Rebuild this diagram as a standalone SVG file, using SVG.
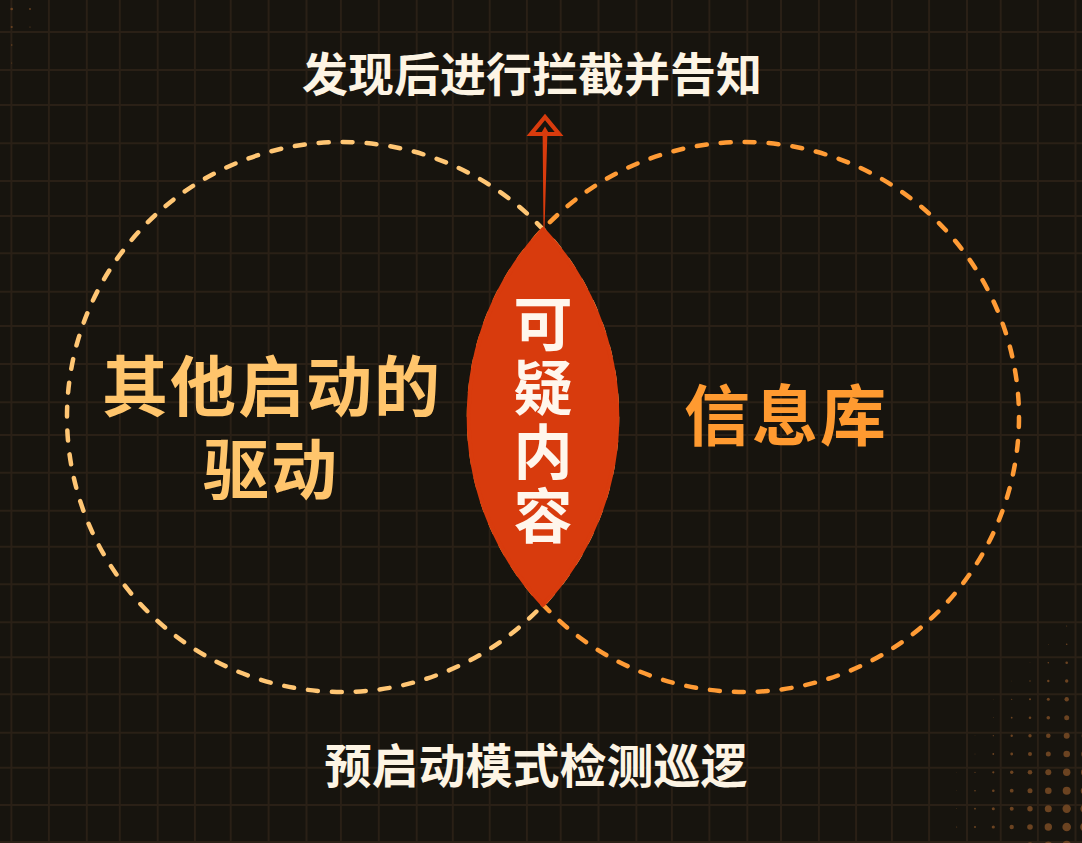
<svg xmlns="http://www.w3.org/2000/svg" width="1082" height="843" viewBox="0 0 1082 843">
<style>
.t{font-family:"Noto Sans CJK SC","Noto Sans",sans-serif;font-weight:700;text-anchor:middle}
.grid{stroke:#2a2016;stroke-width:2;fill:none}
.dot{fill:#6b4321}
.ring{fill:none;stroke-width:4.5;stroke-linecap:round;stroke-dasharray:10 14}
</style>
<rect width="1082" height="843" fill="#17140e"/>
<path class="grid" d="M11.4 0V843M48.9 0V843M86.8 0V843M119.8 0V843M157.7 0V843M194.9 0V843M230.7 0V843M268.6 0V843M306.5 0V843M340.9 0V843M378.8 0V843M416.7 0V843M452.8 0V843M489.7 0V843M526.9 0V843M560.7 0V843M598.5 0V843M636.4 0V843M671.9 0V843M709.4 0V843M747.3 0V843M781 0V843M818.9 0V843M856.1 0V843M891.9 0V843M929.1 0V843M967 0V843M1000.7 0V843M1037.9 0V843M1075.5 0V843
M0 32H1082M0 70H1082M0 105H1082M0 143.3H1082M0 181H1082M0 216H1082M0 253.3H1082M0 291.7H1082M0 326H1082M0 364H1082M0 402.3H1082M0 435H1082M0 472.7H1082M0 510.7H1082M0 546.7H1082M0 584.3H1082M0 622.3H1082M0 657.3H1082M0 694.3H1082M0 732.7H1082M0 767.7H1082M0 805H1082M0 842H1082"/>
<g id="halftone">
<circle class="dot" cx="11.7" cy="9" r="1.3"/><circle class="dot" cx="30" cy="9" r="0.9"/><circle class="dot" cx="11.7" cy="27" r="1.1"/><circle class="dot" cx="30" cy="27" r="0.6"/><circle class="dot" cx="11.7" cy="45" r="0.8"/><circle class="dot" cx="11.7" cy="63" r="0.5"/>
<circle class="dot" cx="1066.7" cy="626" r="0.5"/><circle class="dot" cx="1066.7" cy="644.3" r="0.8"/><circle class="dot" cx="1066.7" cy="662.7" r="1.3"/><circle class="dot" cx="1066.7" cy="681" r="1.7"/><circle class="dot" cx="1066.7" cy="699.3" r="2.2"/><circle class="dot" cx="1066.7" cy="717.7" r="2.5"/><circle class="dot" cx="1066.7" cy="735.7" r="3"/><circle class="dot" cx="1066.7" cy="754" r="3.3"/><circle class="dot" cx="1066.7" cy="772.3" r="3.7"/><circle class="dot" cx="1066.7" cy="790.7" r="4"/><circle class="dot" cx="1066.7" cy="808.7" r="4.2"/><circle class="dot" cx="1066.7" cy="827" r="4.3"/><circle class="dot" cx="1066.7" cy="845.3" r="4.5"/>
<circle class="dot" cx="1048.3" cy="644.3" r="0.4"/><circle class="dot" cx="1048.3" cy="662.7" r="0.8"/><circle class="dot" cx="1048.3" cy="681" r="1.2"/><circle class="dot" cx="1048.3" cy="699.3" r="1.5"/><circle class="dot" cx="1048.3" cy="717.7" r="1.8"/><circle class="dot" cx="1048.3" cy="735.7" r="2.3"/><circle class="dot" cx="1048.3" cy="754" r="2.5"/><circle class="dot" cx="1048.3" cy="772.3" r="3"/><circle class="dot" cx="1048.3" cy="790.7" r="3.3"/><circle class="dot" cx="1048.3" cy="808.7" r="3.5"/><circle class="dot" cx="1048.3" cy="827" r="3.7"/><circle class="dot" cx="1048.3" cy="845.3" r="3.9"/>
<circle class="dot" cx="1030" cy="662.7" r="0.3"/><circle class="dot" cx="1030" cy="681" r="0.7"/><circle class="dot" cx="1030" cy="699.3" r="1"/><circle class="dot" cx="1030" cy="717.7" r="1.3"/><circle class="dot" cx="1030" cy="735.7" r="1.7"/><circle class="dot" cx="1030" cy="754" r="2"/><circle class="dot" cx="1030" cy="772.3" r="2.3"/><circle class="dot" cx="1030" cy="790.7" r="2.5"/><circle class="dot" cx="1030" cy="808.7" r="2.7"/><circle class="dot" cx="1030" cy="827" r="2.8"/><circle class="dot" cx="1030" cy="845.3" r="3"/>
<circle class="dot" cx="1011.7" cy="681" r="0.3"/><circle class="dot" cx="1011.7" cy="699.3" r="0.6"/><circle class="dot" cx="1011.7" cy="717.7" r="0.9"/><circle class="dot" cx="1011.7" cy="735.7" r="1.2"/><circle class="dot" cx="1011.7" cy="754" r="1.4"/><circle class="dot" cx="1011.7" cy="772.3" r="1.7"/><circle class="dot" cx="1011.7" cy="790.7" r="1.9"/><circle class="dot" cx="1011.7" cy="808.7" r="2"/><circle class="dot" cx="1011.7" cy="827" r="2.2"/><circle class="dot" cx="1011.7" cy="845.3" r="2.3"/>
<circle class="dot" cx="993.3" cy="699.3" r="0.25"/><circle class="dot" cx="993.3" cy="717.7" r="0.4"/><circle class="dot" cx="993.3" cy="735.7" r="0.6"/><circle class="dot" cx="993.3" cy="754" r="0.9"/><circle class="dot" cx="993.3" cy="772.3" r="1.1"/><circle class="dot" cx="993.3" cy="790.7" r="1.3"/><circle class="dot" cx="993.3" cy="808.7" r="1.5"/><circle class="dot" cx="993.3" cy="827" r="1.6"/><circle class="dot" cx="993.3" cy="845.3" r="1.7"/>
<circle class="dot" cx="975" cy="735.7" r="0.25"/><circle class="dot" cx="975" cy="754" r="0.4"/><circle class="dot" cx="975" cy="772.3" r="0.6"/><circle class="dot" cx="975" cy="790.7" r="0.8"/><circle class="dot" cx="975" cy="808.7" r="0.9"/><circle class="dot" cx="975" cy="827" r="1"/><circle class="dot" cx="975" cy="845.3" r="1.1"/>
<circle class="dot" cx="956.7" cy="772.3" r="0.25"/><circle class="dot" cx="956.7" cy="790.7" r="0.3"/><circle class="dot" cx="956.7" cy="808.7" r="0.4"/><circle class="dot" cx="956.7" cy="827" r="0.5"/><circle class="dot" cx="956.7" cy="845.3" r="0.6"/>
<circle class="dot" cx="1085" cy="626" r="0.8"/><circle class="dot" cx="1085" cy="644.3" r="1.2"/><circle class="dot" cx="1085" cy="662.7" r="1.6"/><circle class="dot" cx="1085" cy="681" r="2.1"/><circle class="dot" cx="1085" cy="699.3" r="2.5"/><circle class="dot" cx="1085" cy="717.7" r="2.9"/><circle class="dot" cx="1085" cy="735.7" r="3.3"/><circle class="dot" cx="1085" cy="754" r="3.7"/><circle class="dot" cx="1085" cy="772.3" r="4"/><circle class="dot" cx="1085" cy="790.7" r="4.3"/><circle class="dot" cx="1085" cy="808.7" r="4.6"/><circle class="dot" cx="1085" cy="827" r="4.8"/>
</g>
<g id="left-circle">
<circle class="ring" cx="342" cy="417" r="275" stroke="#ffc674"/>
<text class="t" x="272" y="411" font-size="66" fill="#ffc56c" letter-spacing="2">其他启动的</text>
<text class="t" x="271" y="494" font-size="66" fill="#ffc56c" letter-spacing="2">驱动</text>
</g>
<g id="right-circle">
<circle class="ring" cx="744" cy="417" r="275" stroke="#ff9b35"/>
<text class="t" x="786" y="440" font-size="66" fill="#ff9a30" letter-spacing="2">信息库</text>
</g>
<g id="lens">
<path d="M543 229A275 275 0 0 1 543 605A275 275 0 0 1 543 229Z" fill="#d83b0d" stroke="#d83b0d" stroke-width="4" stroke-linejoin="round"/>
<text class="t" font-size="59" fill="#fff6ec"><tspan x="543" y="346">可</tspan><tspan x="543" y="410">疑</tspan><tspan x="543" y="474">内</tspan><tspan x="543" y="538">容</tspan></text>
</g>
<g id="connectors">
<polygon points="543.5,230 542.6,133 540.7,134 545,126.5 549.3,134 547.4,133 544.5,230" fill="#d83b0d"/>
<polygon points="545,117 531,134 559,134" fill="none" stroke="#d83b0d" stroke-width="4.2" stroke-linejoin="miter"/>
</g>
<g id="label-top">
<text class="t" x="532" y="91" font-size="46" fill="#fdf4e4">发现后进行拦截并告知</text>
</g>
<g id="label-bottom">
<text class="t" x="536" y="783" font-size="47" fill="#fdf4e4">预启动模式检测巡逻</text>
</g>
</svg>
